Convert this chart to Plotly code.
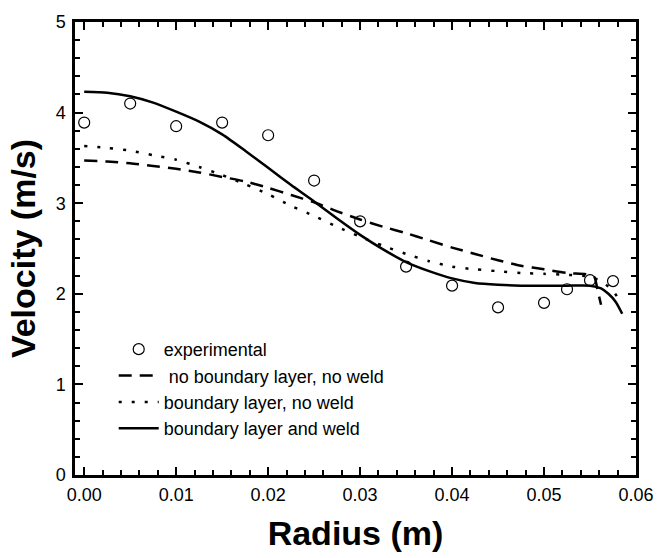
import plotly.graph_objects as go

# Experimental data
exp_x = [0.0, 0.005, 0.01, 0.015, 0.02, 0.025, 0.03, 0.035, 0.04, 0.045, 0.05, 0.0525, 0.055, 0.0575]
exp_v = [3.89, 4.10, 3.85, 3.89, 3.75, 3.25, 2.80, 2.30, 2.09, 1.85, 1.90, 2.05, 2.15, 2.14]

# No boundary layer, no weld (dashed)
nbl_x = [0.0, 0.0025, 0.005, 0.0075, 0.01, 0.0125, 0.015, 0.0175, 0.02, 0.0225, 0.025, 0.0275,
         0.03, 0.0325, 0.035, 0.0375, 0.04, 0.0425, 0.045, 0.0475, 0.05, 0.0525, 0.055, 0.0555,
         0.0558, 0.0562]
nbl_v = [3.47, 3.46, 3.44, 3.41, 3.38, 3.34, 3.29, 3.24, 3.17, 3.09, 3.01, 2.91,
         2.82, 2.74, 2.67, 2.59, 2.51, 2.44, 2.37, 2.31, 2.27, 2.23, 2.21, 2.18,
         2.05, 1.88]

# Boundary layer, no weld (dotted)
bl_x = [0.0, 0.0025, 0.005, 0.0075, 0.01, 0.0125, 0.015, 0.0175, 0.02, 0.0225, 0.025, 0.0275,
        0.03, 0.0325, 0.035, 0.0375, 0.04, 0.0425, 0.045, 0.0475, 0.05, 0.0525, 0.055, 0.0565,
        0.0575, 0.058]
bl_v = [3.63, 3.61, 3.58, 3.53, 3.48, 3.40, 3.31, 3.21, 3.10, 2.97, 2.86, 2.74,
        2.63, 2.53, 2.44, 2.36, 2.30, 2.27, 2.25, 2.23, 2.22, 2.21, 2.19, 2.12,
        2.03, 1.96]

# Boundary layer and weld (solid)
blw_x = [0.0, 0.0025, 0.005, 0.0075, 0.01, 0.0125, 0.015, 0.0175, 0.02, 0.0225, 0.025, 0.0275,
         0.03, 0.0325, 0.035, 0.0375, 0.04, 0.0425, 0.045, 0.0475, 0.05, 0.0525, 0.055, 0.0562,
         0.057, 0.0578, 0.0585]
blw_v = [4.23, 4.22, 4.18, 4.11, 4.01, 3.90, 3.76, 3.58, 3.39, 3.20, 3.02, 2.83,
         2.65, 2.49, 2.35, 2.25, 2.17, 2.12, 2.10, 2.09, 2.09, 2.09, 2.09, 2.06,
         2.00, 1.91, 1.78]

FONT = "Arial, Liberation Sans, sans-serif"

fig = go.Figure()
fig.add_trace(go.Scatter(x=exp_x, y=exp_v, mode="markers", name="experimental",
                         marker=dict(symbol="circle-open", size=11, color="black",
                                     line=dict(width=1.2, color="black"))))
fig.add_trace(go.Scatter(x=nbl_x, y=nbl_v, mode="lines", name=" no boundary layer, no weld",
                         line=dict(color="black", width=2.5, dash="13px,8px",
                                   shape="spline", smoothing=0.6)))
fig.add_trace(go.Scatter(x=bl_x, y=bl_v, mode="lines", name="boundary layer, no weld",
                         line=dict(color="black", width=2.5, dash="3px,10px",
                                   shape="spline", smoothing=0.6)))
fig.add_trace(go.Scatter(x=blw_x, y=blw_v, mode="lines", name="boundary layer and weld",
                         line=dict(color="black", width=2.5,
                                   shape="spline", smoothing=0.6)))

axis_common = dict(showline=True, linecolor="black", linewidth=2.5, mirror="allticks",
                   ticks="inside", tickcolor="black", tickwidth=2, ticklen=8,
                   showgrid=False, zeroline=False,
                   tickfont=dict(family=FONT, size=18, color="black"))

fig.update_xaxes(range=[-0.001, 0.06], dtick=0.01, tick0=0, tickformat=".2f",
                 ticklabelstandoff=2,
                 minor=dict(dtick=0.002, ticks="inside", ticklen=5, tickwidth=2, tickcolor="black"),
                 title=dict(text="<b>Radius (m)</b>", font=dict(family=FONT, size=34, color="black"),
                            standoff=17),
                 **axis_common)
fig.update_yaxes(range=[0, 5], dtick=1, tick0=0,
                 ticklabelstandoff=3,
                 minor=dict(dtick=0.2, ticks="inside", ticklen=5, tickwidth=2, tickcolor="black"),
                 title=dict(text="<b>Velocity (m/s)</b>", font=dict(family=FONT, size=34, color="black"),
                            standoff=10),
                 **axis_common)

fig.update_layout(
    width=666, height=558,
    margin=dict(l=75, r=20, t=15, b=82),
    paper_bgcolor="white", plot_bgcolor="white",
    font=dict(family=FONT, color="black"),
    legend=dict(x=0.069, y=0.318, xanchor="left", yanchor="top",
                bgcolor="rgba(0,0,0,0)", borderwidth=0,
                font=dict(family=FONT, size=18, color="black"),
                tracegroupgap=0, itemwidth=40),
    showlegend=True,
)

fig.write_html("out.html")
